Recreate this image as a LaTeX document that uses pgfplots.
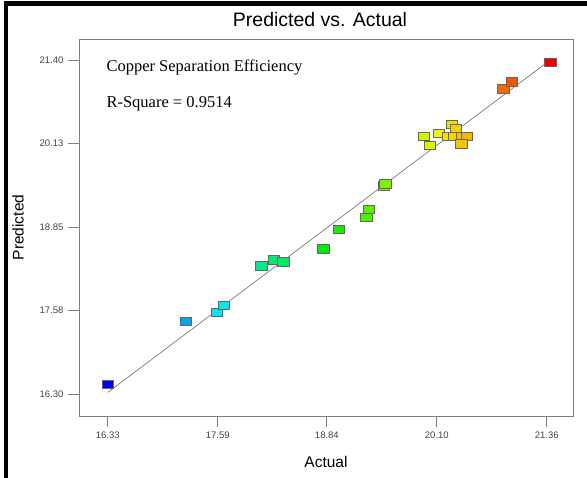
\documentclass[border=0pt]{standalone}
\usepackage{fontspec}
\setmainfont{Liberation Serif}
\newfontfamily\arial{Liberation Sans}
\usepackage{pgfplots}
\usepackage{pgfplotstable}
\pgfplotsset{compat=1.18}

\definecolor{boxgray}{RGB}{125,125,125}
\definecolor{ticklab}{RGB}{65,65,85}
\definecolor{fitline}{RGB}{105,105,105}

% Actual vs. predicted copper separation efficiency
\pgfplotstableread{
act    pred
16.33  16.45
17.22  17.41
17.58  17.55
17.66  17.66
18.09  18.26
18.23  18.35
18.34  18.32
18.80  18.52
18.98  18.82
19.29  19.00
19.32  19.12
19.49  19.48
19.51  19.51
19.95  20.24
20.02  20.10
20.12  20.28
20.27  20.42
20.32  20.36
20.23  20.24
20.30  20.24
20.39  20.24
20.44  20.24
20.38  20.12
20.86  20.96
20.96  21.07
21.40  21.36
}\cuexp

\begin{document}
\begin{tikzpicture}
\path[use as bounding box] (0,0) rectangle (587pt,478pt);
\fill[white] (0,0) rectangle (587pt,478pt);
% outer frame
\fill[black] (4pt,472pt) rectangle (587pt,477pt);
\fill[black] (4pt,0pt) rectangle (8pt,477pt);

\begin{axis}[
  at={(79pt,62pt)}, anchor=south west,
  scale only axis, width=494pt, height=377pt,
  xmin=16.00, xmax=21.66, ymin=15.97, ymax=21.72,
  xtick={16.33,17.59,18.84,20.10,21.36},
  ytick={16.30,17.58,18.85,20.13,21.40},
  xtick pos=bottom, ytick pos=left, tick align=outside,
  major tick length=11pt,
  axis line style={boxgray, line width=0.9pt},
  tick style={boxgray, line width=0.9pt},
  /pgf/number format/.cd, fixed, fixed zerofill, precision=2, assume math mode=true,
  /pgfplots/.cd,
  ticklabel style={font=\arial\fontsize{9.5}{11}\selectfont, text=ticklab},
  xticklabel style={yshift=-1pt},
  yticklabel style={xshift=-1pt},
  title={Predicted vs. Actual},
  title style={font=\arial\fontsize{19.5}{22}\selectfont, at={(axis description cs:0.5,1)}, anchor=base, yshift=6pt, xshift=-6pt},
  xlabel={Actual},
  xlabel style={font=\arial\fontsize{15.5}{18}\selectfont, at={(axis description cs:0.5,0)}, anchor=center, yshift=-46pt},
  ylabel={Predicted},
  ylabel style={font=\arial\fontsize{15.5}{18}\selectfont, at={([xshift=-61pt]axis description cs:0,0.5)}, anchor=center},
  colormap={effic}{rgb255=(0,0,245) rgb255=(0,235,235) rgb255=(0,235,0) rgb255=(245,245,0) rgb255=(240,0,0)},
  point meta min=16.33, point meta max=21.40,
  clip=false,
]
\addplot[scatter, only marks, mark=square*, mark size=4.2pt,
  mark options={xscale=1.35, line width=0.6pt},
  scatter/use mapped color={draw=black!60, fill=mapped color},
  point meta=x] table[x=act, y=pred] {\cuexp};
\addplot[fitline, line width=0.6pt] coordinates {(16.33,16.33) (21.40,21.40)};

\node[anchor=base west, font=\fontsize{16.5}{19}\selectfont]
  at ([xshift=24pt, yshift=-33pt]rel axis cs:0,1) {Copper Separation Efficiency};
\node[anchor=base west, font=\fontsize{16.5}{19}\selectfont]
  at ([xshift=24pt, yshift=-69pt]rel axis cs:0,1) {R-Square = 0.9514};
\end{axis}
\end{tikzpicture}
\end{document}
